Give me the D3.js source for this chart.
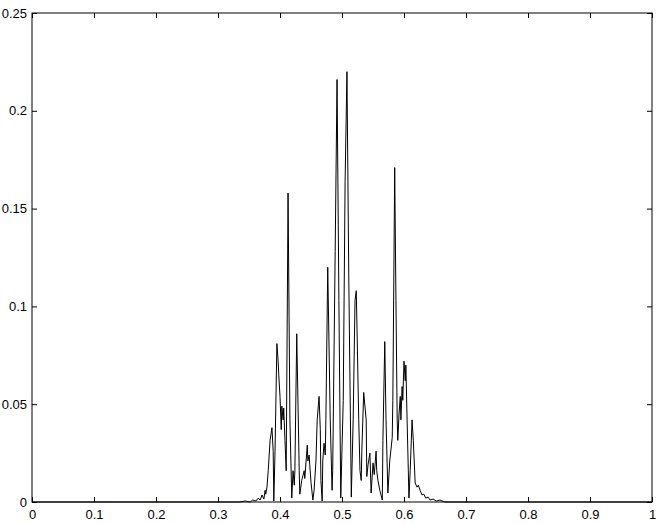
<!DOCTYPE html>
<html>
<head>
<meta charset="utf-8">
<script src="https://cdn.jsdelivr.net/npm/d3@7"></script>
<style>
  html, body { margin: 0; padding: 0; background: #fff; }
  svg { display: block; }
  text { font-family: "Liberation Sans", Arial, Helvetica, sans-serif; }
</style>
</head>
<body>
<svg id="chart" width="661" height="524"></svg>
<script>
// ---- data ----
const xTicks = [0, 0.1, 0.2, 0.3, 0.4, 0.5, 0.6, 0.7, 0.8, 0.9, 1];
const xTickLabels = ["0", "0.1", "0.2", "0.3", "0.4", "0.5", "0.6", "0.7", "0.8", "0.9", "1"];
const yTicks = [0, 0.05, 0.1, 0.15, 0.2, 0.25];
const yTickLabels = ["0", "0.05", "0.1", "0.15", "0.2", "0.25"];

const freq = [
  0, 0.335, 0.344, 0.352, 0.356, 0.361, 0.365, 0.368, 0.371, 0.374,
  0.376, 0.377, 0.379, 0.381, 0.384, 0.387, 0.389, 0.390, 0.392, 0.395,
  0.397, 0.398, 0.400, 0.402, 0.403, 0.405, 0.406, 0.408, 0.410, 0.413,
  0.416, 0.419, 0.421, 0.423, 0.424, 0.427, 0.431, 0.432, 0.435, 0.439,
  0.440, 0.444, 0.445, 0.447, 0.448, 0.450, 0.453, 0.455, 0.458, 0.460,
  0.463, 0.465, 0.466, 0.468, 0.469, 0.471, 0.473, 0.474, 0.477, 0.481,
  0.484, 0.485, 0.489, 0.492, 0.495, 0.498, 0.502, 0.505, 0.508, 0.511,
  0.515, 0.518, 0.521, 0.523, 0.524, 0.527, 0.529, 0.531, 0.532, 0.535,
  0.539, 0.540, 0.542, 0.545, 0.547, 0.550, 0.552, 0.555, 0.556, 0.558,
  0.561, 0.565, 0.566, 0.569, 0.571, 0.574, 0.577, 0.581, 0.582, 0.585,
  0.587, 0.589, 0.590, 0.592, 0.594, 0.595, 0.597, 0.598, 0.600, 0.602,
  0.603, 0.605, 0.608, 0.610, 0.613, 0.615, 0.618, 0.621, 0.623, 0.626,
  0.629, 0.632, 0.635, 0.639, 0.642, 0.647, 0.652, 0.658, 0.666, 1
];
const power = [
  0, 0, 0.0005, 0, 0.001, 0.0005, 0.002, 0.001, 0.0036, 0.0015,
  0.006, 0.004, 0.0076, 0.016, 0.0315, 0.038, 0.026, 0.0005, 0.026, 0.081,
  0.072, 0.065, 0.054, 0.037, 0.049, 0.042, 0.048, 0.0315, 0.016, 0.158,
  0.042, 0.002, 0.016, 0.0086, 0.016, 0.086, 0.016, 0.004, 0.011, 0.016,
  0.012, 0.029, 0.021, 0.024, 0.019, 0.010, 0.001, 0.006, 0.021, 0.042,
  0.054, 0.037, 0.011, 0.0005, 0.021, 0.030, 0.024, 0.042, 0.120, 0.042,
  0.006, 0.016, 0.128, 0.216, 0.103, 0.002, 0.052, 0.164, 0.220, 0.113,
  0.0025, 0.042, 0.103, 0.108, 0.092, 0.042, 0.016, 0.011, 0.026, 0.056,
  0.042, 0.013, 0.019, 0.025, 0.0046, 0.020, 0.014, 0.026, 0.016, 0.011,
  0.006, 0.001, 0.0315, 0.082, 0.042, 0.0046, 0.021, 0.033, 0.052, 0.171,
  0.103, 0.042, 0.0315, 0.045, 0.054, 0.042, 0.059, 0.052, 0.072, 0.062,
  0.070, 0.042, 0.002, 0.016, 0.042, 0.0315, 0.0097, 0.0076, 0.0086, 0.006,
  0.0036, 0.004, 0.002, 0.0025, 0.001, 0.0015, 0.0005, 0.001, 0, 0
];

// ---- layout ----
const margin = { left: 32, right: 9, top: 13, bottom: 22 };
const W = 661, H = 524;
const svg = d3.select("#chart");

const x = d3.scaleLinear().domain([0, 1]).range([margin.left, W - margin.right]);
const y = d3.scaleLinear().domain([0, 0.25]).range([H - margin.bottom, margin.top]);

const fontSize = 13;
const tickLen = 5;

function styleAxis(g) {
  g.select(".domain").remove();
  g.selectAll(".tick line").attr("stroke", "#000").attr("stroke-width", 1);
  g.selectAll("text").attr("font-size", fontSize).attr("fill", "#000")
    .attr("font-family", "'Liberation Sans', Arial, Helvetica, sans-serif");
}

// bottom axis (with labels)
svg.append("g")
  .attr("transform", `translate(0,${y(0)})`)
  .call(d3.axisBottom(x).tickValues(xTicks)
    .tickFormat((d, i) => xTickLabels[i])
    .tickSizeInner(-tickLen).tickSizeOuter(0).tickPadding(8))
  .call(styleAxis);

// top axis (ticks only)
svg.append("g")
  .attr("transform", `translate(0,${y(0.25)})`)
  .call(d3.axisTop(x).tickValues(xTicks).tickFormat("")
    .tickSizeInner(-tickLen).tickSizeOuter(0))
  .call(styleAxis);

// left axis (with labels)
svg.append("g")
  .attr("transform", `translate(${x(0)},0)`)
  .call(d3.axisLeft(y).tickValues(yTicks)
    .tickFormat((d, i) => yTickLabels[i])
    .tickSizeInner(-tickLen).tickSizeOuter(0).tickPadding(5))
  .call(styleAxis);

// right axis (ticks only)
svg.append("g")
  .attr("transform", `translate(${x(1)},0)`)
  .call(d3.axisRight(y).tickValues(yTicks).tickFormat("")
    .tickSizeInner(-tickLen).tickSizeOuter(0))
  .call(styleAxis);

// box
svg.append("rect")
  .attr("x", x(0)).attr("y", y(0.25))
  .attr("width", x(1) - x(0)).attr("height", y(0) - y(0.25))
  .attr("fill", "none").attr("stroke", "#000").attr("stroke-width", 1);

// data line
const pts = freq.map((f, i) => [f, power[i]]);
svg.append("path")
  .datum(pts)
  .attr("fill", "none")
  .attr("stroke", "#000")
  .attr("stroke-width", 1)
  .attr("stroke-linejoin", "miter")
  .attr("d", d3.line().x(d => x(d[0])).y(d => y(d[1])));
</script>
</body>
</html>
